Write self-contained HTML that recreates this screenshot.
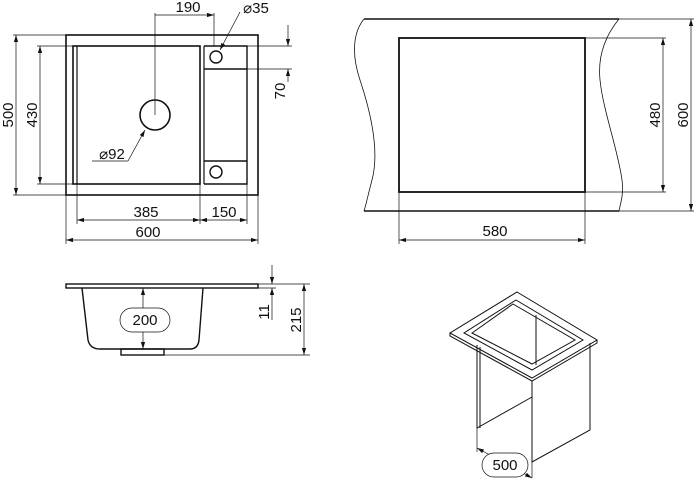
<!DOCTYPE html>
<html><head><style>body{margin:0;background:#fff}svg{display:block}text{font-family:"Liberation Sans",sans-serif;font-size:15px;fill:#111}</style></head><body>
<svg width="694" height="483" viewBox="0 0 694 483" xmlns="http://www.w3.org/2000/svg">
<defs><marker id="a" viewBox="0 0 10 6" refX="10" refY="3" markerWidth="10" markerHeight="6" orient="auto-start-reverse"><path d="M0,0L10,3L0,6z" fill="#111"/></marker></defs>
<g fill="none" stroke="#111">
<rect x="66" y="35" width="192" height="160" stroke-width="1.6"/>
<rect x="73" y="46" width="127" height="138" stroke-width="1.6"/>
<line x1="77" y1="46" x2="77" y2="184" stroke-width="1.2"/>
<line x1="204" y1="46" x2="204" y2="184" stroke-width="1.2"/>
<path d="M204,46H247V184H204M204,69H247M204,161H247" stroke-width="1.4"/>
<circle cx="216" cy="57" r="6" stroke-width="1.4"/>
<circle cx="216" cy="172" r="6" stroke-width="1.4"/>
<circle cx="155" cy="115" r="15" stroke-width="1.6"/>
<g stroke-width="0.7">
<line x1="13" y1="35" x2="66" y2="35"/><line x1="13" y1="195" x2="66" y2="195"/>
<line x1="16" y1="35" x2="16" y2="195" marker-start="url(#a)" marker-end="url(#a)"/>
<line x1="37" y1="46" x2="73" y2="46"/><line x1="37" y1="184" x2="73" y2="184"/>
<line x1="40" y1="46" x2="40" y2="184" marker-start="url(#a)" marker-end="url(#a)"/>
<line x1="155" y1="13" x2="155" y2="115"/><line x1="214" y1="13" x2="214" y2="46"/>
<line x1="155" y1="15" x2="214" y2="15" marker-end="url(#a)"/>
<line x1="240" y1="12" x2="220" y2="50" marker-end="url(#a)"/>
<line x1="247" y1="46" x2="292" y2="46"/><line x1="247" y1="69" x2="292" y2="69"/>
<line x1="288" y1="25" x2="288" y2="46" marker-end="url(#a)"/>
<line x1="288" y1="82" x2="288" y2="69" marker-end="url(#a)"/>
<line x1="92" y1="161" x2="128" y2="161"/><line x1="128" y1="161" x2="145" y2="130" marker-end="url(#a)"/>
<line x1="77" y1="184" x2="77" y2="224"/><line x1="200" y1="184" x2="200" y2="224"/><line x1="247" y1="184" x2="247" y2="224"/>
<line x1="66" y1="195" x2="66" y2="244"/><line x1="258" y1="170" x2="258" y2="244"/>
<line x1="77" y1="220" x2="200" y2="220" marker-start="url(#a)" marker-end="url(#a)"/>
<line x1="200" y1="220" x2="247" y2="220" marker-start="url(#a)" marker-end="url(#a)"/>
<line x1="66" y1="240" x2="258" y2="240" marker-start="url(#a)" marker-end="url(#a)"/>
</g>
<line x1="364" y1="19" x2="619" y2="19" stroke-width="1.6"/>
<line x1="364" y1="211" x2="619" y2="211" stroke-width="1.6"/>
<path d="M364,19C355,30 350,50 360,80C370,110 380,150 372,180C368,195 366,205 364,211" stroke-width="0.8"/>
<path d="M619,19C610,30 597,50 600,80C603,110 618,150 622,180C624,195 620,205 619,211" stroke-width="0.8"/>
<rect x="399" y="38" width="186" height="154" stroke-width="1.8"/>
<g stroke-width="0.7">
<line x1="585" y1="38" x2="666" y2="38"/><line x1="585" y1="192" x2="666" y2="192"/>
<line x1="663" y1="38" x2="663" y2="192" marker-start="url(#a)" marker-end="url(#a)"/>
<line x1="619" y1="19" x2="694" y2="19"/><line x1="619" y1="211" x2="694" y2="211"/>
<line x1="691" y1="19" x2="691" y2="211" marker-start="url(#a)" marker-end="url(#a)"/>
<line x1="399" y1="192" x2="399" y2="244"/><line x1="585" y1="192" x2="585" y2="244"/>
<line x1="399" y1="240" x2="585" y2="240" marker-start="url(#a)" marker-end="url(#a)"/>
</g>
<rect x="66" y="284" width="192" height="4" stroke-width="1.4"/>
<path d="M82,288L88,340Q90,349 100,349H190Q198,349 199,340L203,288" stroke-width="1.4"/>
<rect x="121" y="349" width="43" height="6" stroke-width="1.4"/>
<g stroke-width="0.7">
<line x1="143" y1="288" x2="143" y2="349" marker-start="url(#a)" marker-end="url(#a)"/>
<line x1="258" y1="284" x2="310" y2="284"/><line x1="258" y1="288" x2="276" y2="288"/><line x1="164" y1="355" x2="310" y2="355"/>
<line x1="272" y1="265" x2="272" y2="284" marker-end="url(#a)"/>
<line x1="272" y1="320" x2="272" y2="288" marker-end="url(#a)"/>
<line x1="304" y1="284" x2="304" y2="355" marker-start="url(#a)" marker-end="url(#a)"/>
</g>
<rect x="120" y="308" width="50" height="24" rx="12" fill="#fff" stroke-width="0.7"/>
<g stroke-width="1">
<path d="M517,292L597,340L532,378L450,333Z" fill="#fff"/>
<path d="M450,333V336L532,381L597,343V340"/>
<path d="M516,300L583,340L532,370L464,333Z"/>
<path d="M513,304L575,340L532,364L472,333Z"/>
<path d="M477,345V428L532,397"/>
<path d="M480,347V428"/>
<path d="M536,315V365"/>
<path d="M532,381V462L590,430V343"/>
</g>
<g stroke-width="0.7">
<line x1="477" y1="428" x2="477" y2="452"/><line x1="532" y1="462" x2="532" y2="478"/>
<line x1="477" y1="448" x2="532" y2="478" marker-start="url(#a)" marker-end="url(#a)"/>
</g>
<rect x="482" y="453" width="46" height="24" rx="12" fill="#fff" stroke-width="0.7"/>
</g>
<text x="188" y="12" text-anchor="middle">190</text>
<text x="256" y="13" text-anchor="middle">⌀35</text>
<text x="112" y="159" text-anchor="middle">⌀92</text>
<text x="146" y="217" text-anchor="middle">385</text>
<text x="224" y="217" text-anchor="middle">150</text>
<text x="148" y="237" text-anchor="middle">600</text>
<text transform="translate(13,115) rotate(-90)" text-anchor="middle">500</text>
<text transform="translate(37,115) rotate(-90)" text-anchor="middle">430</text>
<text transform="translate(285,91) rotate(-90)" text-anchor="middle">70</text>
<text x="495" y="236" text-anchor="middle">580</text>
<text transform="translate(660,115) rotate(-90)" text-anchor="middle">480</text>
<text transform="translate(688,115) rotate(-90)" text-anchor="middle">600</text>
<text x="145" y="325" text-anchor="middle">200</text>
<text transform="translate(269,312) rotate(-90)" text-anchor="middle">11</text>
<text transform="translate(301,320) rotate(-90)" text-anchor="middle">215</text>
<text x="505" y="470" text-anchor="middle">500</text>
</svg>
</body></html>
